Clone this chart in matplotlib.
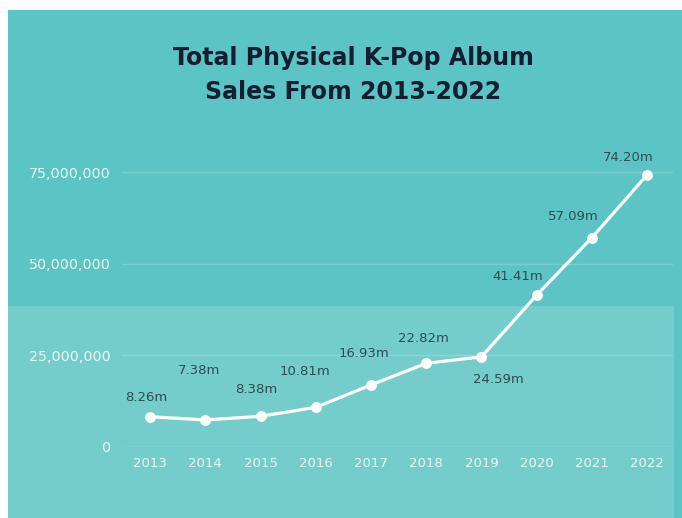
import matplotlib
matplotlib.use("Agg")
import matplotlib.pyplot as plt
from matplotlib.patches import Rectangle

years = [2013, 2014, 2015, 2016, 2017, 2018, 2019, 2020, 2021, 2022]
sales_m = [8.26, 7.38, 8.38, 10.81, 16.93, 22.82, 24.59, 41.41, 57.09, 74.20]
value_labels = ["8.26m", "7.38m", "8.38m", "10.81m", "16.93m", "22.82m",
                "24.59m", "41.41m", "57.09m", "74.20m"]
y_ticks = [0, 25_000_000, 50_000_000, 75_000_000]
y_tick_labels = ["0", "25,000,000", "50,000,000", "75,000,000"]
title = "Total Physical K-Pop Album\nSales From 2013-2022"

# label offsets in pixels (dx, dy)
offsets = [(-4, 19), (-6, 49), (-4, 27), (-11, 36), (-7, 31), (-3, 25),
           (17, -23), (-19, 19), (-19, 21), (-19, 17)]

W, H = 682, 518
fig = plt.figure(figsize=(W / 100, H / 100), dpi=100)
fig.patch.set_facecolor("white")

teal = "#5cc4c4"
light = "#74cdcb"
fig.patches.append(Rectangle((8 / W, 0), 1 - 8 / W, (H - 10) / H,
                             transform=fig.transFigure, facecolor=teal,
                             edgecolor="none", zorder=-2))
fig.patches.append(Rectangle((8 / W, 0), (674 - 8) / W, (H - 306) / H,
                             transform=fig.transFigure, facecolor=light,
                             edgecolor="none", zorder=-1))

ax = fig.add_axes([122 / W, (H - 447) / H, 551 / W, 293.3 / H])
ax.set_facecolor("none")
ax.set_zorder(5)

vals = [v * 1e6 for v in sales_m]
ax.plot(years, vals, color="white", lw=2.3, marker="o", ms=6.8,
        mec="white", mfc="white", clip_on=False, zorder=3)

for x, v, lab, (dx, dy) in zip(years, vals, value_labels, offsets):
    ax.annotate(lab, (x, v), xytext=(dx, dy), textcoords="offset pixels",
                ha="center", va="center", fontsize=9.5, color="#2e4d52",
                fontfamily="DejaVu Sans")

ax.set_xlim(2012.49, 2022.47)
ax.set_ylim(0, 80e6)
ax.set_yticks(y_ticks)
ax.set_yticklabels(y_tick_labels)
ax.set_xticks(years)
ax.set_xticklabels([str(y) for y in years])
ax.tick_params(axis="both", length=0, colors="#eaf7f7", labelsize=9.5)
ax.tick_params(axis="y", pad=8, labelsize=10.3)
ax.tick_params(axis="x", pad=7)
for s in ax.spines.values():
    s.set_visible(False)
for i, t in enumerate(y_ticks):
    ax.axhline(t, color="white", alpha=0.35 if t == 0 else 0.18, lw=1, zorder=1)

fig.text(353 / W, 1 - 75 / H, title, ha="center", va="center",
         fontsize=17, fontweight="bold", color="#151d33",
         linespacing=1.55, fontfamily="DejaVu Sans")

fig.savefig("out.png", dpi=100)
